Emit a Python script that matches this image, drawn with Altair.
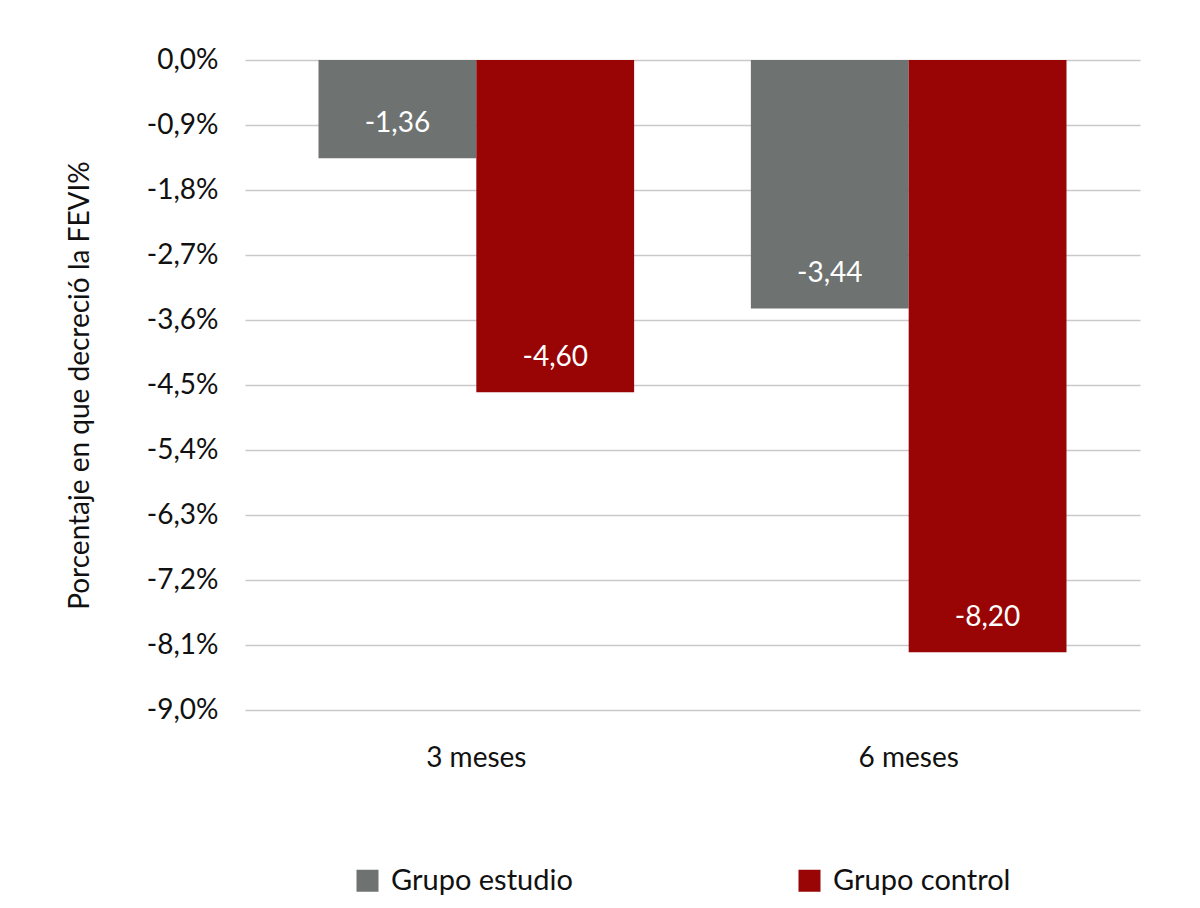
import altair as alt
import pandas as pd

periods = ["3 meses", "3 meses", "6 meses", "6 meses"]
groups = ["Grupo estudio", "Grupo control", "Grupo estudio", "Grupo control"]
values = [-1.36, -4.60, -3.44, -8.20]
y_ticks = [0.0, -0.9, -1.8, -2.7, -3.6, -4.5, -5.4, -6.3, -7.2, -8.1, -9.0]
group_order = ["Grupo estudio", "Grupo control"]
colors = ["#6e7371", "#990404"]

df = pd.DataFrame({"periodo": periods, "grupo": groups, "valor": values})

FONT = "Lato"
TXT = "#111111"

base = alt.Chart(df).encode(
    x=alt.X("periodo:N", title=None, sort=["3 meses", "6 meses"],
            scale=alt.Scale(paddingInner=0.27, paddingOuter=0.17),
            axis=alt.Axis(labelAngle=0, labelFontSize=28, labelPadding=34, ticks=False,
                          domain=False, labelColor=TXT, labelFont=FONT)),
    xOffset=alt.XOffset("grupo:N", sort=group_order),
)

bars = base.mark_bar().encode(
    y=alt.Y("valor:Q", title="Porcentaje en que decreció la FEVI%",
            scale=alt.Scale(domain=[-9.0, 0.0], nice=False),
            axis=alt.Axis(values=y_ticks, labelFontSize=28, titleFontSize=28,
                          labelExpr="(datum.value < 0 ? '-' : '') + replace(format(abs(datum.value), '.1f'), '.', ',') + '%'",
                          labelPadding=27, titlePadding=52, domain=False, ticks=False,
                          gridColor="#c9c9c9", gridWidth=1.5, labelColor=TXT,
                          titleColor=TXT, titleFontWeight="normal",
                          labelFont=FONT, titleFont=FONT)),
    y2=alt.datum(0),
    color=alt.Color("grupo:N", sort=group_order,
                    scale=alt.Scale(domain=group_order, range=colors),
                    legend=alt.Legend(title=None, orient="none", legendX=108, legendY=806,
                                      direction="horizontal", columns=2, columnPadding=222,
                                      symbolType="square", symbolSize=484, labelLimit=400,
                                      labelFontSize=29, labelFont=FONT, labelColor=TXT,
                                      symbolStrokeWidth=0, labelOffset=9)),
)

labels = base.transform_calculate(
    lab="'-' + replace(format(abs(datum.valor), '.2f'), '.', ',')"
).mark_text(color="white", fontSize=28, font=FONT, dy=-34, baseline="middle").encode(
    y=alt.Y("valor:Q"),
    text="lab:N",
)

chart = alt.layer(bars, labels).properties(
    width=895, height=650,
    autosize=alt.AutoSizeParams(type="none"),
    padding={"left": 237, "top": 52, "right": 52, "bottom": 190},
).configure_view(stroke=None)

chart.save("out.html", embed_options={"renderer": "svg", "actions": False})
